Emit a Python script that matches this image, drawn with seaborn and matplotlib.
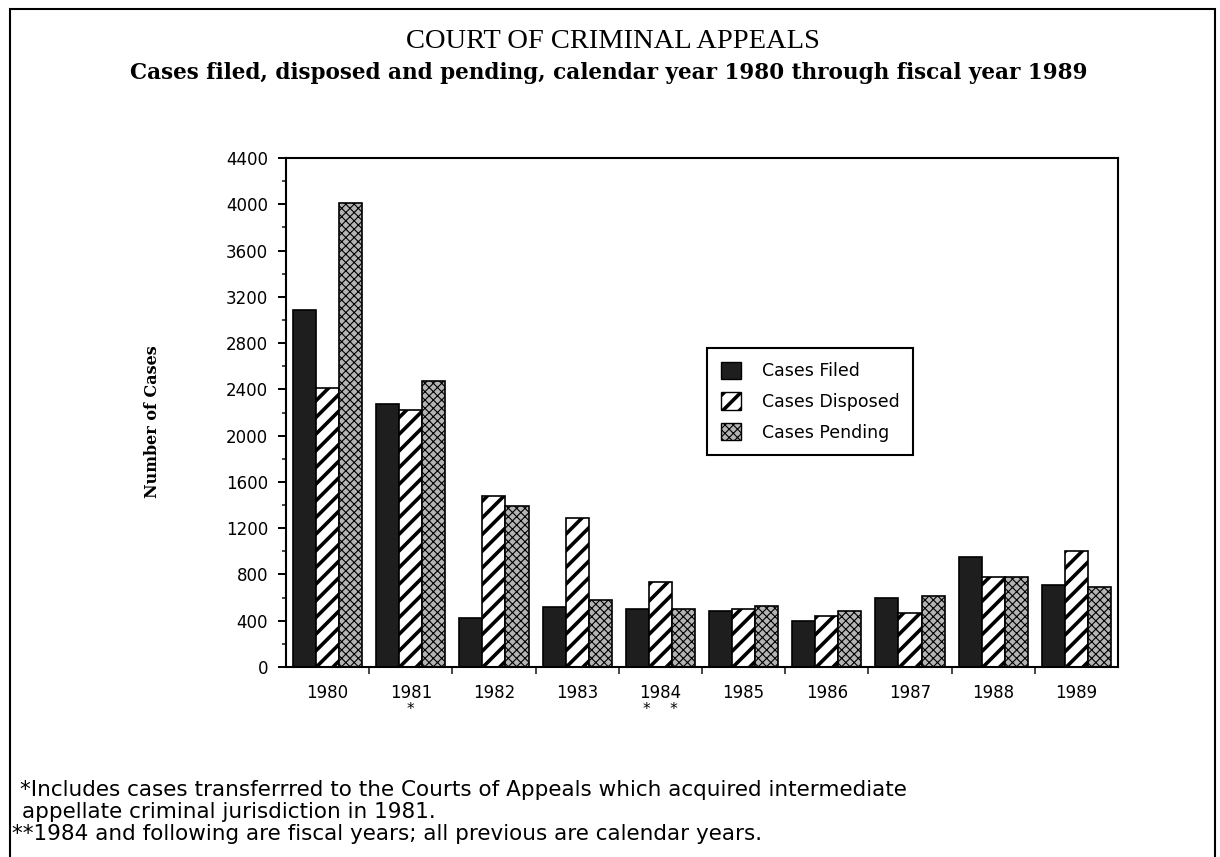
#importing libraries
import numpy as np
import pandas as pd
import seaborn as sns
import matplotlib.pyplot as plt
import matplotlib.patches as mpatches

#data
years = ['1980', '1981', '1982', '1983', '1984', '1985', '1986', '1987', '1988', '1989']
cases_filed = [3085, 2270, 425, 515, 505, 480, 395, 600, 950, 710]
cases_disposed = [2410, 2220, 1480, 1285, 735, 505, 445, 465, 775, 1000]
cases_pending = [4010, 2470, 1395, 575, 505, 530, 485, 615, 780, 695]
series = ['Cases Filed', 'Cases Disposed', 'Cases Pending']
yticks = list(range(0, 4401, 400))

df = pd.DataFrame({'Year': years * 3,
                   'Series': np.repeat(series, len(years)),
                   'Cases': cases_filed + cases_disposed + cases_pending})

sns.set_theme(style='ticks')
plt.rcParams['font.family'] = ['DejaVu Sans']
plt.rcParams['text.color'] = 'black'
plt.rcParams['hatch.linewidth'] = 2.6
plt.rcParams['axes.linewidth'] = 1.5

fig = plt.figure(figsize=(12.2, 8.57), dpi=100)
ax = fig.add_axes([0.2344, 0.2217, 0.6820, 0.5939])

sns.barplot(data=df, x='Year', y='Cases', hue='Series', hue_order=series,
            palette=['#1e1e1e', 'white', '#a8a8a8'], width=0.83,
            edgecolor='black', linewidth=1.2, legend=False, ax=ax)

#styling the three series (pending gets a fine crosshatch if hatch width can be set per bar)
fine_hatch = hasattr(mpatches.Patch, 'set_hatch_linewidth')
pending_fc = '#b4b4b4' if fine_hatch else '#a0a0a0'
styles = [dict(fc='#1e1e1e', hatch=None),
          dict(fc='white', hatch='//'),
          dict(fc=pending_fc, hatch='xxxx' if fine_hatch else None)]
for cont, st in zip(ax.containers, styles):
    for bar in cont:
        bar.set_facecolor(st['fc'])
        bar.set_edgecolor('black')
        if st['hatch']:
            bar.set_hatch(st['hatch'])
            if st['hatch'] == 'xxxx':
                bar.set_hatch_linewidth(0.8)

#axes
ax.set_xlim(-0.5, 9.5)
ax.set_ylim(0, 4400)
ax.set_yticks(yticks)
ax.set_yticks(range(200, 4400, 400), minor=True)
ax.set_yticklabels([str(t) for t in yticks], fontsize=12)
ax.set_xticks(np.arange(0.5, 9.0, 1.0))
ax.set_xticklabels([])
ax.set_xticks(range(len(years)), minor=True)
ax.set_xticklabels(years, minor=True, fontsize=12)
ax.tick_params(axis='y', which='major', direction='out', length=6, width=1.4, pad=7, colors='black')
ax.tick_params(axis='y', which='minor', direction='out', length=3, width=1.2)
ax.tick_params(axis='x', which='major', direction='out', length=5, width=1.2)
ax.tick_params(axis='x', which='minor', length=0, pad=12, colors='black')
ax.set_xlabel('')
ax.set_ylabel('')
for s in ax.spines.values():
    s.set_visible(True)
    s.set_color('black')

#footnote markers under the year labels
ax.annotate('*', xy=(1, -0.083), xycoords=('data', 'axes fraction'), ha='center', va='center', fontsize=11)
ax.annotate('*    *', xy=(4, -0.083), xycoords=('data', 'axes fraction'), ha='center', va='center', fontsize=11)

#legend
handles = [mpatches.Patch(facecolor='#1e1e1e', edgecolor='black', label=series[0]),
           mpatches.Patch(facecolor='white', edgecolor='black', hatch='//', label=series[1]),
           mpatches.Patch(facecolor=pending_fc, edgecolor='black',
                          hatch='xxxx' if fine_hatch else None, label=series[2])]
leg = ax.legend(handles=handles, loc='upper left', bbox_to_anchor=(0.506, 0.627),
                fontsize=12.5, frameon=True, fancybox=False, shadow=False,
                handlelength=1.15, handleheight=1.15, handletextpad=1.2,
                labelspacing=0.7, borderpad=0.8, borderaxespad=0)
leg.get_frame().set_edgecolor('black')
leg.get_frame().set_linewidth(1.5)
leg.get_frame().set_alpha(1)
if fine_hatch:
    leg.get_patches()[2].set_hatch_linewidth(0.8)

#titles and labels
fig.text(0.502, 0.951, 'COURT OF CRIMINAL APPEALS', ha='center', va='center',
         fontsize=20.5, family='Liberation Serif')
fig.text(0.499, 0.915, 'Cases filed, disposed and pending, calendar year 1980 through fiscal year 1989',
         ha='center', va='center', fontsize=15.5, family='DejaVu Serif', fontweight='bold')
fig.text(0.1246, 0.5076, 'Number of Cases', rotation=90, ha='center', va='center',
         fontsize=11.5, family='DejaVu Serif', fontweight='bold')

#footnotes
fig.text(0.0165, 0.078, '*Includes cases transferrred to the Courts of Appeals which acquired intermediate',
         ha='left', va='center', fontsize=15.5)
fig.text(0.018, 0.052, 'appellate criminal jurisdiction in 1981.', ha='left', va='center', fontsize=15.5)
fig.text(0.0098, 0.027, '**1984 and following are fiscal years; all previous are calendar years.',
         ha='left', va='center', fontsize=15.5)

#page border
fig.patches.append(mpatches.Rectangle((0.008, -0.05), 0.988, 1.04, transform=fig.transFigure,
                                      fill=False, edgecolor='black', linewidth=1.5))

plt.savefig('out.png', dpi=100)
